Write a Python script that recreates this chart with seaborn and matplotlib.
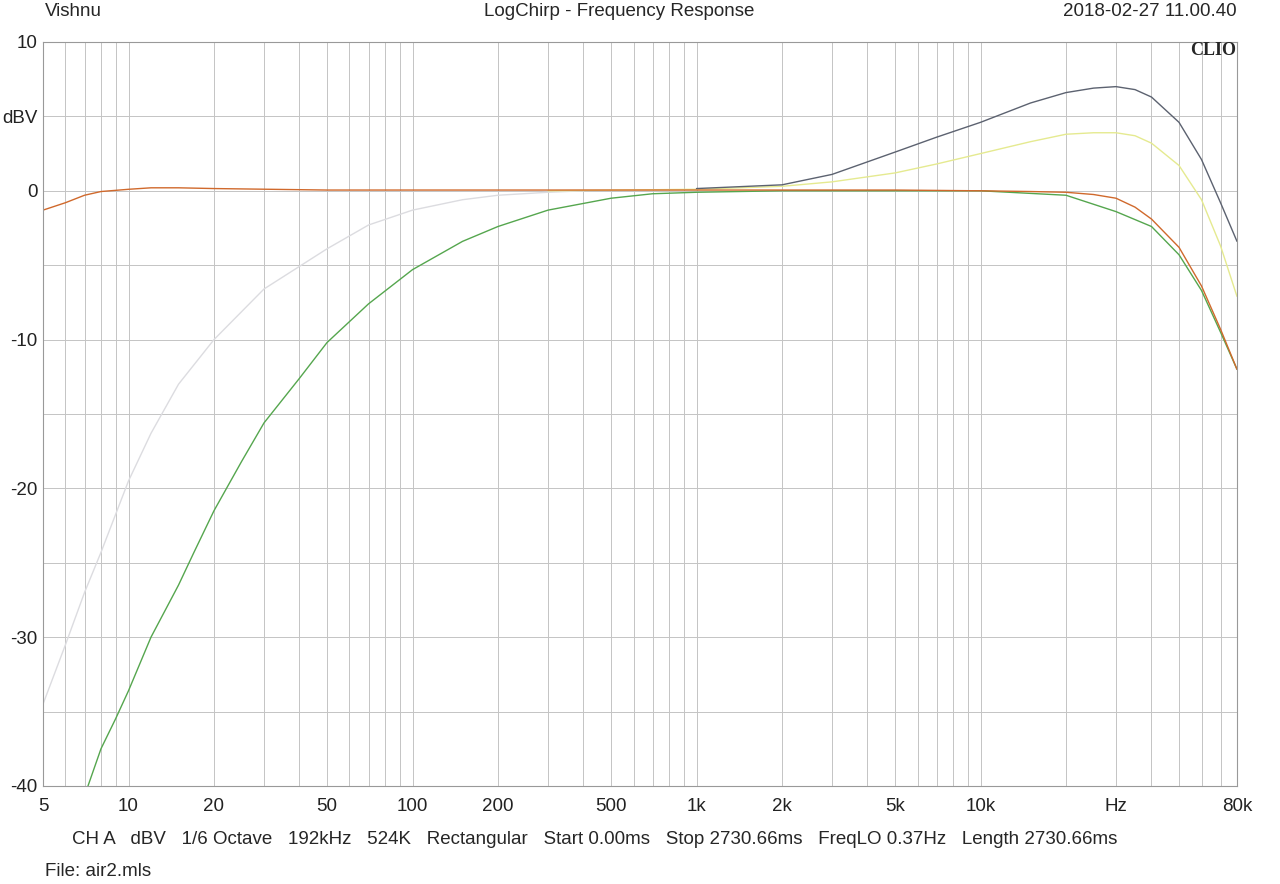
import pandas as pd
import matplotlib.pyplot as plt
import seaborn as sns
from matplotlib.ticker import FixedLocator, NullFormatter

# values (Hz, dBV)
flat_f = [5, 6, 7, 8, 10, 12, 15, 20, 50, 200, 1000, 2000, 5000, 10000, 15000, 20000, 25000, 30000, 35000, 40000, 50000, 60000, 70000, 80000]
flat_db = [-1.3, -0.8, -0.3, -0.05, 0.1, 0.2, 0.2, 0.15, 0.05, 0.05, 0.05, 0.05, 0.05, 0.0, -0.05, -0.1, -0.25, -0.5, -1.1, -1.9, -3.8, -6.4, -9.3, -12.0]

dark_f = [1000, 2000, 3000, 5000, 7000, 10000, 15000, 20000, 25000, 30000, 35000, 40000, 50000, 60000, 70000, 80000]
dark_db = [0.15, 0.4, 1.1, 2.6, 3.6, 4.6, 5.9, 6.6, 6.9, 7.0, 6.8, 6.3, 4.6, 2.1, -0.8, -3.4]

yellow_f = [300, 1000, 2000, 3000, 5000, 7000, 10000, 15000, 20000, 25000, 30000, 35000, 40000, 50000, 60000, 70000, 80000]
yellow_db = [0.0, 0.1, 0.3, 0.6, 1.2, 1.8, 2.5, 3.3, 3.8, 3.9, 3.9, 3.7, 3.2, 1.7, -0.6, -3.7, -7.1]

light_f = [5, 6, 7, 8, 10, 12, 15, 20, 30, 50, 70, 100, 150, 200, 300, 400]
light_db = [-34.5, -30.5, -27.0, -24.3, -19.5, -16.3, -13.0, -10.0, -6.6, -3.9, -2.3, -1.3, -0.6, -0.3, -0.1, 0.0]

green_f = [7.2, 8, 9, 10, 12, 15, 17, 20, 25, 30, 40, 50, 70, 100, 150, 200, 300, 500, 700, 1000, 2000, 5000, 10000, 20000, 30000, 40000, 50000, 60000, 70000, 80000]
green_db = [-40, -37.5, -35.5, -33.6, -30.0, -26.5, -24.3, -21.5, -18.2, -15.6, -12.6, -10.2, -7.6, -5.3, -3.4, -2.4, -1.3, -0.5, -0.2, -0.1, 0.0, 0.0, 0.0, -0.3, -1.4, -2.4, -4.3, -6.7, -9.5, -12.0]

sns.set_style("white")
plt.rcParams['font.family'] = ['Liberation Sans', 'DejaVu Sans']
fs = 13.5

fig = plt.figure(figsize=(12.8, 8.84), dpi=100)
ax = fig.add_axes([0.0336, 0.1109, 0.9328, 0.8416])

curves = [
    (light_f, light_db, '#dcdce0'),
    (yellow_f, yellow_db, '#e5ea90'),
    (dark_f, dark_db, '#5c6270'),
    (green_f, green_db, '#55a64e'),
    (flat_f, flat_db, '#d0692c'),
]
for f, db, c in curves:
    sns.lineplot(x=f, y=db, ax=ax, color=c, lw=1.0)

ax.set_xscale('log')
ax.set_xlim(5, 80000)
ax.set_ylim(-40, 10)

minor = [m * 10 ** e for e in range(0, 5) for m in range(1, 10) if 5 <= m * 10 ** e <= 80000]
ax.xaxis.set_major_locator(FixedLocator([5, 10, 20, 50, 100, 200, 500, 1000, 2000, 5000, 10000, 30000, 80000]))
ax.xaxis.set_minor_locator(FixedLocator(minor))
ax.xaxis.set_minor_formatter(NullFormatter())
ax.set_xticklabels(['5', '10', '20', '50', '100', '200', '500', '1k', '2k', '5k', '10k', 'Hz', '80k'])
ax.set_yticks([-40, -35, -30, -25, -20, -15, -10, -5, 0, 5, 10])
ax.set_yticklabels(['-40', '', '-30', '', '-20', '', '-10', '', '0', 'dBV', '10'])
ax.grid(True, which='both', color='#c4c4c4', lw=0.7)
ax.tick_params(length=0, labelsize=fs, colors='#222222')
ax.tick_params(axis='x', pad=9)
ax.tick_params(axis='y', pad=4)
for s in ax.spines.values():
    s.set_color('#999999')
    s.set_linewidth(0.8)

fig.text(0.035, 0.987, 'Vishnu', fontsize=fs, va='center')
fig.text(0.484, 0.987, 'LogChirp - Frequency Response', fontsize=fs, va='center', ha='center')
fig.text(0.966, 0.987, '2018-02-27 11.00.40', fontsize=fs, va='center', ha='right')
fig.text(0.966, 0.943, 'CLIO', fontsize=13, fontweight='bold', family='Liberation Serif', va='center', ha='right')
fig.text(0.056, 0.05, 'CH A   dBV   1/6 Octave   192kHz   524K   Rectangular   Start 0.00ms   Stop 2730.66ms   FreqLO 0.37Hz   Length 2730.66ms',
         fontsize=fs, va='center')
fig.text(0.035, 0.014, 'File: air2.mls', fontsize=fs, va='center')

fig.savefig('out.png', dpi=100)
